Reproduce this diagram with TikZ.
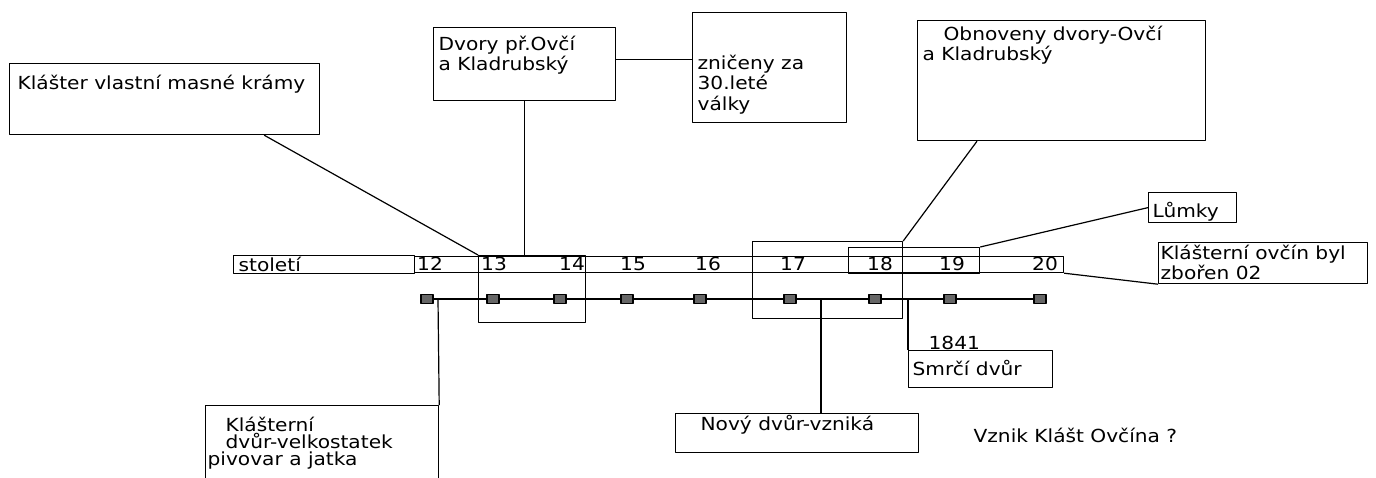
\documentclass[tikz,border=0pt]{standalone}
\usepackage{fontspec}
\setmainfont{DejaVu Sans}[FakeStretch=1.12]
\usetikzlibrary{calc}
\tikzset{
	pole/.style={draw, anchor=north west, inner sep=0pt},
	txt/.style={anchor=north west, inner sep=0pt, align=left},
	num/.style={anchor=base, inner sep=0pt},
	ctverec/.style={draw, fill=black!60, minimum width=12pt, minimum height=9pt, inner sep=0pt},
}
\newcommand{\vrch}{\rule{0pt}{16pt}}

\begin{document}
\begin{tikzpicture}[x=1pt,y=-1pt,line width=1.2pt,line join=round,font=\fontsize{18}{20.5}\selectfont]
	\def\osa{299}
	\clip (0,0) rectangle (1376,477);
	% boxes
	\node[pole, minimum width=310pt, minimum height=71pt] (masne) at (9,63) {};
	\node[pole, minimum width=182pt, minimum height=73pt] (dvory) at (433,27) {};
	\node[pole, minimum width=154pt, minimum height=110pt] (znicene) at (692,12) {};
	\node[pole, minimum width=288pt, minimum height=120pt] (obnov) at (917,20) {};
	\node[pole, minimum width=181pt, minimum height=18pt] (stoleti) at (233,255) {};
	\node[pole, minimum width=649pt, minimum height=16pt] (rada) at (414,256) {};
	\node[pole, minimum width=107pt, minimum height=67pt] (b1314) at (478,255) {};
	\node[pole, minimum width=150pt, minimum height=77pt] (b17) at (752,241) {};
	\node[pole, minimum width=131pt, minimum height=26pt] (b1819) at (848,247) {};
	\node[pole, minimum width=88pt, minimum height=30pt] (lumky) at (1148,192) {};
	\node[pole, minimum width=209pt, minimum height=41pt] (zboren) at (1158,242) {};
	\node[pole, minimum width=144pt, minimum height=37pt] (smrci) at (908,350) {};
	\node[pole, minimum width=243pt, minimum height=39pt] (novy) at (675,413) {};
	\node[pole, minimum width=233pt, minimum height=100pt] (dvur) at (205,405) {};
	% texts
	\node[txt] (masnet) at (17,72.5) {\vrch Klášter vlastní masné krámy};
	\node[txt] (dvoryt) at (438,33.5) {\vrch Dvory př.Ovčí\\a Kladrubský};
	\node[txt] (zniceno) at (697,52.5) {\vrch zničeny za\\30.leté\\války};
	\node[txt] (obnovt) at (922,23.5) {\vrch\hspace*{21pt}Obnoveny dvory-Ovčí\\a Kladrubský};
	\node[txt] (stoletit) at (238,255) {\vrch století};
	\node[txt] (lumkyt) at (1152,200.5) {\vrch Lůmky};
	\node[txt] (zborent) at (1160,242.5) {\vrch Klášterní ovčín byl\\zbořen 02};
	\node[txt] (rok) at (928,332.5) {\vrch 1841};
	\node[txt] (smrcit) at (912,358.5) {\vrch Smrčí dvůr};
	\node[txt] (novyt) at (700,413.5) {\vrch Nový dvůr-vzniká};
	\node[txt, font=\fontsize{18}{17}\selectfont] (dvurt) at (207,415) {\vrch\hspace*{18pt}Klášterní\\\hspace*{18pt}dvůr-velkostatek\\pivovar a jatka};
	\node[txt] (vznik) at (973,425.5) {\vrch Vznik Klášt Ovčína ?};
	% centuries
	\foreach \c/\x in {12/430,13/494,14/572,15/633,16/708,17/793,18/880,19/952,20/1045}
		\node[num] (n\c) at (\x,270) {\c};
	\foreach \c/\x in {12/427,13/493,14/560,15/627,16/700,17/790,18/875,19/950,20/1040}
		\node[ctverec] (sq\c) at (\x,\osa) {};
	\foreach \a/\b in {12/13,13/14,14/15,15/16,16/17,17/18,18/19,19/20}
		\draw (sq\a) -- (sq\b);
	% connectors
	\coordinate (dvurup) at (438,\osa);
	\coordinate (novyup) at (821,\osa);
	\coordinate (smrciup) at (908,\osa);
	\draw ($(masne.south east)+(-56,0)$) -- (b1314.north west);
	\draw (dvory.south) -- (dvory.south |- b1314.north);
	\draw ([yshift=5pt]dvory.east) -- ([yshift=5pt]dvory.east -| znicene.west);
	\draw ($(obnov.south west)+(60,0)$) -- (b17.north east);
	\draw (b1819.north east) -- (lumky.west);
	\draw (rada.south east) -- (zboren.south west);
	\draw (dvurup) -- (dvur.north east);
	\draw (novyup) -- (novyup |- novy.north);
	\draw (smrciup) -- (smrci.north west);
\end{tikzpicture}
\end{document}
